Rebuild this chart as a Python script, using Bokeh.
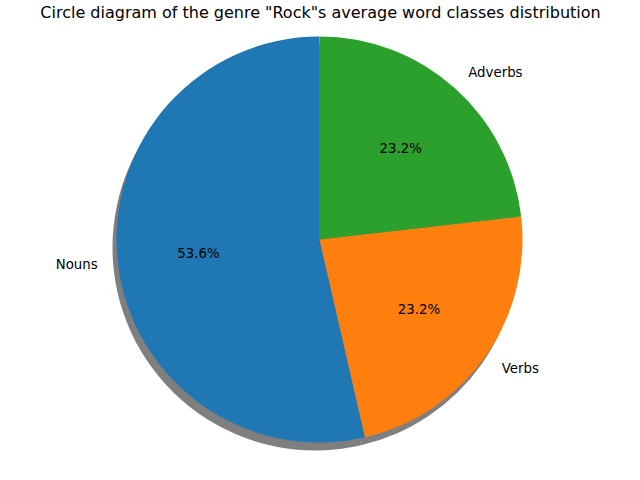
import numpy as np
from bokeh.plotting import figure
from bokeh.models import Range1d, ColumnDataSource
from bokeh.core.properties import value
from bokeh.embed import file_html
from bokeh.resources import INLINE

categories = ["Nouns", "Verbs", "Adverbs"]
shares = [53.6, 23.2, 23.2]
colors = ["#1f77b4", "#ff7f0e", "#2ca02c"]
title = 'Circle diagram of the genre "Rock"s average word classes distribution'

p = figure(width=624, height=464, output_backend="svg", toolbar_location=None,
           x_range=Range1d(0, 624), y_range=Range1d(16, 480), min_border=0)
p.axis.visible = False
p.grid.visible = False
p.outline_line_color = None

cx, cy, r = 319, 241, 203
fr = np.array(shares) / sum(shares)
ends = np.pi / 2 + 2 * np.pi * np.cumsum(fr)
starts = ends - 2 * np.pi * fr
mids = (starts + ends) / 2

p.wedge(x=cx - 4, y=cy - 8, radius=r, start_angle=starts, end_angle=ends,
        color="#000000", fill_alpha=0.5, line_alpha=0)
src = ColumnDataSource(dict(s=starts, e=ends, c=colors))
p.wedge(x=cx, y=cy, radius=r, start_angle="s", end_angle="e", fill_color="c",
        line_color=None, source=src)

lx = cx + 1.1 * r * np.cos(mids)
ly = cy + 1.1 * r * np.sin(mids)
align = ["right" if np.cos(m) < 0 else "left" for m in mids]
p.text(x=lx, y=ly, text=categories, text_align=align, text_baseline="middle",
       text_font=value("DejaVu Sans"), text_font_size="10pt", text_color="black")
px = cx + 0.6 * r * np.cos(mids)
py = cy + 0.6 * r * np.sin(mids)
p.text(x=px, y=py, text=[f"{v:.1f}%" for v in shares], text_align="center",
       text_baseline="middle", text_font=value("DejaVu Sans"), text_font_size="10pt",
       text_color="black")
p.text(x=[320], y=[468], text=[title], text_align="center", text_baseline="alphabetic",
       text_font=value("DejaVu Sans"), text_font_size="12pt", text_color="black")

open("out.html", "w").write(file_html(p, INLINE))
